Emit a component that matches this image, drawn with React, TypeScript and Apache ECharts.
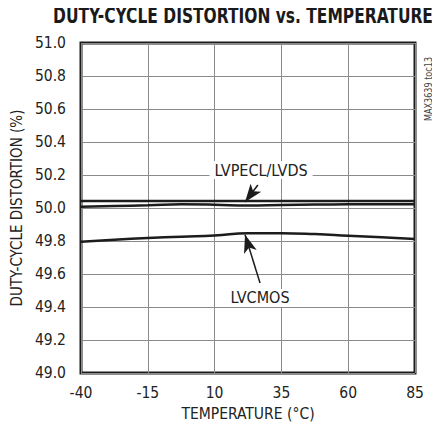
import React, { useEffect, useRef } from "react";
import * as echarts from "echarts";

const temps = [-40, -27.5, -15, -2.5, 10, 22.5, 35, 47.5, 60, 72.5, 85];
const lvpeclTop = [50.042, 50.042, 50.042, 50.042, 50.042, 50.042, 50.042, 50.042, 50.042, 50.042, 50.042];
const lvpeclLow = [50.008, 50.012, 50.016, 50.022, 50.02, 50.015, 50.018, 50.021, 50.022, 50.022, 50.022];
const lvcmos = [49.796, 49.808, 49.818, 49.826, 49.833, 49.847, 49.847, 49.842, 49.832, 49.822, 49.812];
const xTicks = [-40, -15, 10, 35, 60, 85];
const yMin = 49.0;
const yMax = 51.0;
const X0 = -40; // offset so that ticks count from a multiple of the interval

const FONT = "'DejaVu Sans Condensed', 'Liberation Sans', sans-serif";

export default function App() {
  const ref = useRef<HTMLDivElement>(null);
  useEffect(() => {
    if (!ref.current) return;
    const chart = echarts.init(ref.current, null, { renderer: "svg" });
    const toXY = (vals: number[]) => temps.map((t, i) => [t - X0, vals[i]]);
    const lineStyle = { color: "#1c1c1c", width: 2.5 };
    chart.setOption({
      animation: false,
      backgroundColor: "#ffffff",
      grid: {
        left: 81,
        right: 25,
        top: 43,
        bottom: 64,
        show: true,
        borderColor: "#1c1c1c",
        borderWidth: 3,
        backgroundColor: "transparent",
        containLabel: false,
        outerBoundsMode: "none",
      },
      xAxis: {
        type: "value",
        min: xTicks[0] - X0,
        max: xTicks[xTicks.length - 1] - X0,
        interval: 25,
        axisLine: { show: false },
        axisTick: { show: false },
        splitLine: { lineStyle: { color: "#8a8a8a", width: 1 } },
        axisLabel: {
          margin: 12,
          fontFamily: FONT,
          fontSize: 15.5,
          color: "#222",
          formatter: (v: number) => String(Math.round(v + X0)),
        },
        name: "TEMPERATURE (°C)",
        nameLocation: "middle",
        nameGap: 33,
        nameTextStyle: { fontFamily: FONT, fontSize: 15.5, color: "#222" },
      },
      yAxis: {
        type: "value",
        min: yMin,
        max: yMax,
        interval: 0.2,
        axisLine: { show: false },
        axisTick: { show: false },
        splitLine: { lineStyle: { color: "#8a8a8a", width: 1 } },
        axisLabel: {
          margin: 15,
          fontFamily: FONT,
          fontSize: 15.5,
          color: "#222",
          formatter: (v: number) => v.toFixed(1),
        },
        name: "DUTY-CYCLE DISTORTION (%)",
        nameLocation: "middle",
        nameGap: 54,
        nameTextStyle: { fontFamily: FONT, fontSize: 15, color: "#222" },
      },
      graphic: [
        {
          type: "text",
          x: 243,
          y: 16,
          scaleX: 0.82,
          originX: 0,
          style: {
            text: "DUTY-CYCLE DISTORTION vs. TEMPERATURE",
            fontFamily: FONT,
            fontWeight: "bold",
            fontSize: 21,
            fill: "#1a1a1a",
            align: "center",
            verticalAlign: "middle",
          },
        },
        {
          type: "text",
          x: 423,
          y: 121,
          rotation: Math.PI / 2,
          scaleX: 0.9,
          style: {
            text: "MAX3639 toc13",
            fontFamily: FONT,
            fontSize: 10,
            fill: "#444",
          },
        },
      ],
      series: [
        {
          type: "line",
          data: toXY(lvpeclTop),
          symbol: "none",
          smooth: true,
          lineStyle,
          z: 3,
          markPoint: {
            symbol: "rect",
            symbolSize: 1,
            itemStyle: { color: "rgba(0,0,0,0)" },
            label: {
              show: true,
              position: "inside",
              formatter: "LVPECL/LVDS",
              fontFamily: FONT,
              fontSize: 16,
              color: "#222",
              backgroundColor: "#ffffff",
              padding: [1, 5],
            },
            data: [{ coord: [27.4 - X0, 50.23] }],
          },
          markLine: {
            silent: true,
            symbol: ["none", "arrow"],
            symbolSize: [10, 18],
            lineStyle: { color: "#1c1c1c", width: 1.5, type: "solid" },
            label: { show: false },
            data: [
              [
                { coord: [26.2 - X0, 50.139] },
                { coord: [21.4 - X0, 50.036] },
              ],
            ],
          },
        },
        {
          type: "line",
          data: toXY(lvpeclLow),
          symbol: "none",
          smooth: true,
          lineStyle,
          z: 3,
        },
        {
          type: "line",
          data: toXY(lvcmos),
          symbol: "none",
          smooth: true,
          lineStyle,
          z: 3,
          markPoint: {
            symbol: "rect",
            symbolSize: 1,
            itemStyle: { color: "rgba(0,0,0,0)" },
            label: {
              show: true,
              position: "inside",
              formatter: "LVCMOS",
              fontFamily: FONT,
              fontSize: 16,
              color: "#222",
              backgroundColor: "#ffffff",
              padding: [1, 5],
            },
            data: [{ coord: [27.0 - X0, 49.455] }],
          },
          markLine: {
            silent: true,
            symbol: ["none", "arrow"],
            symbolSize: [10, 18],
            lineStyle: { color: "#1c1c1c", width: 1.5, type: "solid" },
            label: { show: false },
            data: [
              [
                { coord: [27.0 - X0, 49.545] },
                { coord: [21.4 - X0, 49.838] },
              ],
            ],
          },
        },
      ],
    });
    return () => chart.dispose();
  }, []);
  return <div ref={ref} style={{ width: 440, height: 437, margin: -8 }} />;
}
